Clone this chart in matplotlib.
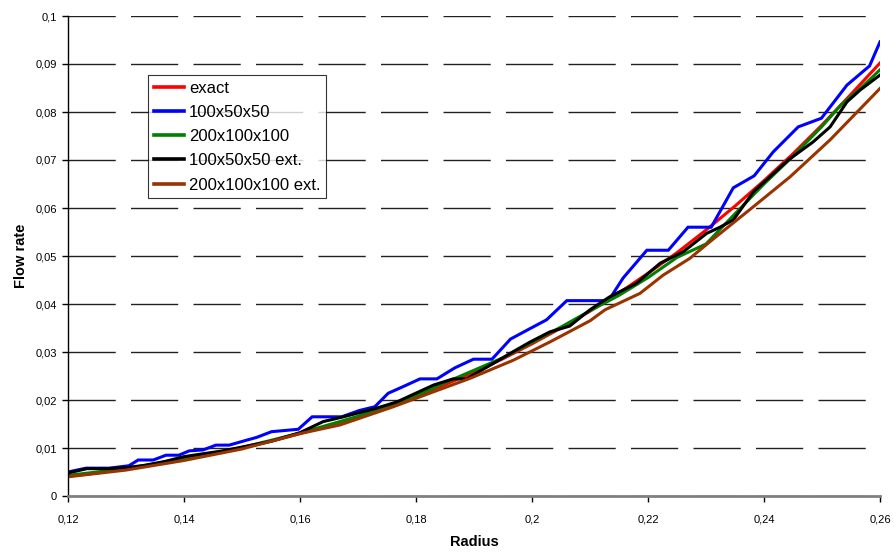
import matplotlib
matplotlib.use("Agg")
import matplotlib.pyplot as plt
from matplotlib.ticker import FuncFormatter, MultipleLocator

plt.rcParams['font.family'] = ['Liberation Sans', 'DejaVu Sans']

# ---- data ----
r_common = [0.12, 0.125, 0.13, 0.135, 0.14, 0.145, 0.15, 0.155, 0.16, 0.165, 0.17,
            0.175, 0.18, 0.185, 0.19, 0.195, 0.2, 0.205, 0.21, 0.215, 0.22, 0.225,
            0.23, 0.235, 0.24, 0.245, 0.25, 0.255, 0.26]
exact = [0.0041, 0.0048, 0.0057, 0.0066, 0.0076, 0.0088, 0.0100, 0.0114, 0.0130,
         0.0147, 0.0165, 0.0186, 0.0208, 0.0232, 0.0258, 0.0286, 0.0317, 0.0350,
         0.0385, 0.0423, 0.0464, 0.0507, 0.0554, 0.0604, 0.0657, 0.0713, 0.0773,
         0.0837, 0.0902]

r_blue = [0.12, 0.1231, 0.1271, 0.1305, 0.1321, 0.1347, 0.1369, 0.1391, 0.1409,
          0.1433, 0.1455, 0.1478, 0.1507, 0.1525, 0.1551, 0.1597, 0.1621, 0.1672,
          0.1702, 0.1729, 0.1752, 0.1778, 0.1807, 0.1836, 0.1867, 0.1899, 0.1931,
          0.1963, 0.1997, 0.2025, 0.2060, 0.2132, 0.2157, 0.2198, 0.2235, 0.2269,
          0.2309, 0.2347, 0.2383, 0.2416, 0.2459, 0.2499, 0.2543, 0.2582, 0.26]
blue = [0.0050, 0.0058, 0.0058, 0.0063, 0.0075, 0.0075, 0.0085, 0.0085, 0.0094,
        0.0096, 0.0106, 0.0106, 0.0116, 0.0122, 0.0134, 0.0139, 0.0165, 0.0165,
        0.0178, 0.0186, 0.0214, 0.0228, 0.0244, 0.0244, 0.0267, 0.0285, 0.0285,
        0.0327, 0.0349, 0.0367, 0.0407, 0.0407, 0.0454, 0.0512, 0.0512, 0.0560,
        0.0560, 0.0642, 0.0667, 0.0717, 0.0769, 0.0787, 0.0856, 0.0896, 0.0946]

r_green = [0.12, 0.13, 0.14, 0.15, 0.16, 0.17, 0.18, 0.185, 0.19, 0.195, 0.2, 0.205,
           0.21, 0.215, 0.22, 0.225, 0.23, 0.235, 0.24, 0.245, 0.25, 0.2533, 0.2567, 0.26]
green = [0.0043, 0.0057, 0.0078, 0.0101, 0.0131, 0.0166, 0.0209, 0.0236, 0.0262,
         0.0288, 0.0320, 0.0352, 0.0386, 0.0418, 0.0455, 0.0497, 0.0525, 0.0588,
         0.0650, 0.0708, 0.0770, 0.0815, 0.0850, 0.0888]

r_black = [0.12, 0.1233, 0.1267, 0.13, 0.1333, 0.1367, 0.14, 0.1433, 0.1467, 0.15,
           0.155, 0.16, 0.164, 0.1675, 0.1732, 0.1767, 0.183, 0.1864, 0.1887, 0.1933,
           0.1968, 0.1997, 0.2031, 0.2065, 0.2100, 0.2134, 0.218, 0.2221, 0.2261,
           0.2301, 0.2324, 0.2347, 0.2382, 0.2442, 0.2485, 0.2514, 0.2543, 0.2566, 0.26]
black = [0.0048, 0.0057, 0.0057, 0.0059, 0.0064, 0.0072, 0.0082, 0.0088, 0.0094,
         0.0102, 0.0114, 0.0132, 0.0155, 0.0165, 0.0183, 0.0196, 0.0231, 0.0244,
         0.0244, 0.0276, 0.0301, 0.0321, 0.0342, 0.0354, 0.0388, 0.0415, 0.0443,
         0.0485, 0.0509, 0.0547, 0.0560, 0.0575, 0.0634, 0.0700, 0.0738, 0.0769,
         0.0821, 0.0846, 0.0877]

r_brown = [0.12, 0.13, 0.14, 0.15, 0.16, 0.1669, 0.1761, 0.183, 0.1893, 0.1968, 0.2031,
           0.21, 0.2126, 0.2186, 0.2226, 0.2272, 0.2307, 0.2382, 0.2445, 0.2514, 0.26]
brown = [0.0040, 0.0054, 0.0074, 0.0098, 0.0130, 0.0148, 0.0186, 0.0217, 0.0245,
         0.0283, 0.0321, 0.0365, 0.0388, 0.0422, 0.0460, 0.0495, 0.0530, 0.0603,
         0.0665, 0.0742, 0.0849]

labels = ['exact', '100x50x50', '200x100x100', '100x50x50 ext.', '200x100x100 ext.']
colors = ['#ff0000', '#0000ff', '#008000', '#000000', '#993300']

# ---- figure ----
fig = plt.figure(figsize=(8.95, 5.52), dpi=100)
ax = fig.add_axes([68 / 895, 56 / 552, 812 / 895, 480 / 552])

series = [(r_common, exact), (r_blue, blue), (r_green, green), (r_black, black), (r_brown, brown)]
for (xs, ys), lab, col in zip(series, labels, colors):
    ax.plot(xs, ys, color=col, lw=2.2, label=lab, solid_joinstyle='miter')

ax.set_xlim(0.12, 0.26)
ax.set_ylim(0, 0.1)
ax.xaxis.set_major_locator(MultipleLocator(0.02))
ax.yaxis.set_major_locator(MultipleLocator(0.01))

def fmt(v, pos):
    s = ('%.2f' % v).rstrip('0').rstrip('.')
    if abs(v) < 1e-12:
        s = '0'
    return s.replace('.', ',')

ax.xaxis.set_major_formatter(FuncFormatter(fmt))
ax.yaxis.set_major_formatter(FuncFormatter(fmt))

ax.yaxis.grid(True, color='#202020', lw=1.0, linestyle=(0, (34, 11)))
ax.set_axisbelow(True)

for s in ['top', 'right']:
    ax.spines[s].set_visible(False)
ax.spines['left'].set_color('black')
ax.spines['left'].set_linewidth(1.0)
ax.spines['bottom'].set_color('#808080')
ax.spines['bottom'].set_linewidth(2.0)

ax.tick_params(axis='both', direction='out', length=4, width=1, color='black',
               labelsize=8, labelcolor='black', pad=4)
ax.tick_params(axis='x', pad=9)

ax.set_xlabel('Radius', fontsize=10.5, fontweight='bold', labelpad=8)
ax.set_ylabel('Flow rate', fontsize=10.5, fontweight='bold', labelpad=5)

leg = ax.legend(loc='upper left', bbox_to_anchor=((148 - 68) / 812, (496 - 75) / 480),
                fontsize=12, frameon=True, fancybox=False, edgecolor='black',
                borderpad=0.35, labelspacing=0.55, handlelength=1.8, handletextpad=0.3,
                borderaxespad=0)
leg.get_frame().set_linewidth(0.8)
for h in leg.get_lines():
    h.set_linewidth(2.6)

fig.savefig('out.png', dpi=100)
